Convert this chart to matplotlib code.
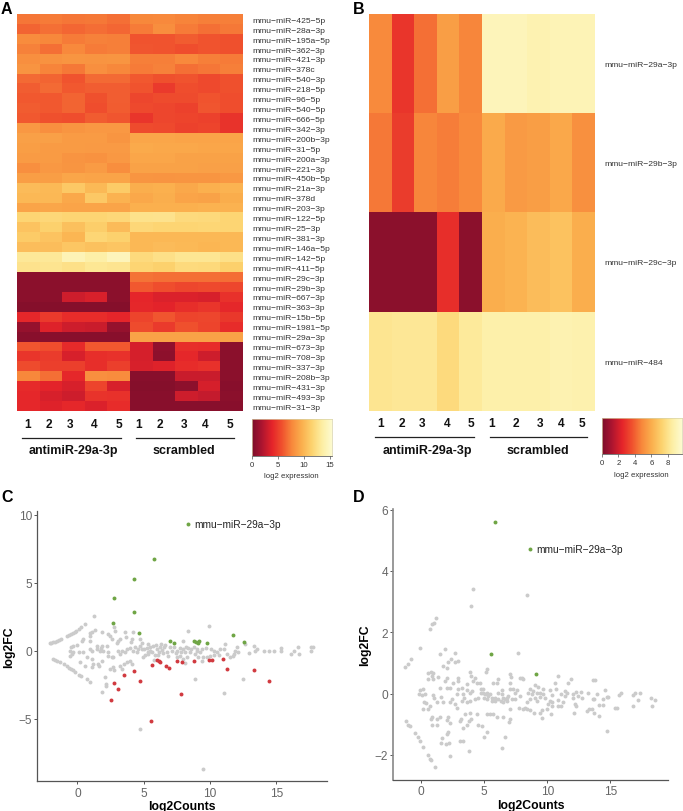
import numpy as np
import matplotlib
matplotlib.use("Agg")
import matplotlib.pyplot as plt
from matplotlib.lines import Line2D
from matplotlib.colors import LinearSegmentedColormap

plt.rcParams['font.family'] = ['Liberation Sans', 'DejaVu Sans']

W, H = 683, 812

# panel A
mirs_a = ["425-5p", "28a-3p", "195a-5p", "362-3p", "421-3p", "378c", "540-3p", "218-5p", "96-5p", "540-5p",
          "666-5p", "342-3p", "200b-3p", "31-5p", "200a-3p", "221-3p", "450b-5p", "21a-3p", "378d", "203-3p",
          "122-5p", "25-3p", "381-3p", "146a-5p", "142-5p", "411-5p", "29c-3p", "29b-3p", "667-3p", "363-3p",
          "15b-5p", "1981-5p", "29a-3p", "673-3p", "708-3p", "337-3p", "208b-3p", "431-3p", "493-3p", "31-3p"]
expr_a = [
    [7.0, 7.2, 7.0, 7.1, 6.8, 7.6, 7.7, 7.5, 7.3, 7.3],
    [6.4, 6.8, 6.5, 6.7, 6.5, 7.2, 7.9, 7.2, 6.8, 7.1],
    [7.8, 7.6, 7.2, 7.4, 7.3, 5.8, 5.8, 6.1, 5.8, 5.7],
    [7.4, 6.8, 7.7, 7.2, 7.3, 5.9, 5.8, 5.6, 5.8, 5.7],
    [8.0, 8.1, 8.3, 8.2, 8.3, 7.3, 7.3, 7.7, 7.3, 7.2],
    [8.2, 7.5, 7.1, 8.0, 7.6, 7.2, 7.4, 6.8, 7.0, 7.3],
    [6.6, 6.4, 5.8, 6.6, 6.6, 6.0, 5.7, 5.8, 5.4, 5.7],
    [6.2, 6.6, 6.0, 6.2, 6.2, 5.8, 4.8, 5.6, 5.4, 5.7],
    [6.0, 6.0, 6.4, 5.7, 6.2, 5.3, 5.5, 5.5, 5.8, 5.6],
    [6.1, 6.0, 6.4, 5.6, 6.1, 5.4, 5.3, 5.1, 5.9, 5.6],
    [6.0, 5.7, 5.6, 6.1, 5.9, 4.6, 5.3, 5.2, 5.1, 4.5],
    [8.4, 8.0, 8.3, 8.4, 8.4, 5.5, 5.4, 5.1, 5.2, 4.5],
    [8.8, 8.8, 8.6, 8.6, 8.3, 9.1, 9.1, 9.0, 9.0, 9.0],
    [8.7, 8.6, 8.6, 8.5, 8.5, 9.3, 9.2, 9.2, 9.1, 9.1],
    [8.6, 8.6, 8.2, 8.1, 8.4, 9.1, 9.1, 8.9, 8.9, 8.9],
    [8.0, 8.4, 8.3, 8.6, 7.9, 8.9, 8.9, 8.9, 8.8, 8.8],
    [8.7, 8.7, 9.1, 9.0, 9.0, 8.3, 8.2, 8.3, 8.3, 8.4],
    [10.2, 10.1, 10.9, 10.1, 11.0, 9.5, 9.6, 9.2, 9.6, 9.8],
    [10.0, 10.0, 9.2, 10.9, 9.7, 9.2, 9.5, 9.0, 8.9, 9.4],
    [9.0, 9.1, 9.0, 9.0, 9.0, 9.6, 9.6, 9.6, 9.7, 9.7],
    [11.6, 11.8, 11.6, 11.6, 11.8, 12.5, 12.6, 12.0, 11.9, 11.6],
    [10.6, 11.4, 10.4, 11.2, 10.2, 11.8, 11.6, 11.6, 11.7, 11.6],
    [11.0, 10.6, 9.9, 11.7, 11.4, 10.0, 10.0, 10.0, 10.0, 10.0],
    [10.3, 10.3, 10.8, 10.5, 10.7, 10.0, 10.2, 10.1, 9.9, 10.0],
    [13.0, 13.0, 14.2, 13.6, 14.4, 12.0, 12.4, 12.8, 12.8, 12.4],
    [12.6, 12.7, 12.4, 12.9, 12.7, 11.6, 11.4, 12.0, 11.9, 11.3],
    [0.6, 0.6, 0.6, 0.6, 0.6, 6.9, 6.8, 6.8, 6.8, 6.7],
    [0.6, 0.6, 0.6, 0.6, 0.6, 6.0, 5.6, 5.3, 5.4, 5.3],
    [0.6, 0.6, 3.0, 3.4, 0.6, 3.9, 3.5, 3.5, 3.4, 4.4],
    [0.4, 0.4, 0.4, 0.4, 0.4, 4.0, 3.8, 4.3, 4.6, 4.0],
    [4.0, 4.8, 4.2, 4.2, 3.9, 5.2, 5.9, 5.2, 5.3, 4.7],
    [1.0, 3.6, 3.0, 2.9, 1.0, 5.5, 4.8, 5.7, 5.2, 4.2],
    [0.5, 0.5, 0.5, 0.5, 0.5, 8.9, 8.9, 8.9, 8.9, 8.9],
    [5.9, 5.6, 4.1, 6.0, 6.0, 3.3, 0.8, 4.3, 4.2, 0.6],
    [4.6, 4.9, 3.4, 4.3, 4.4, 3.3, 0.7, 4.0, 3.0, 0.6],
    [5.5, 5.0, 5.0, 4.3, 5.0, 3.4, 3.6, 4.2, 4.4, 0.6],
    [7.6, 6.8, 4.0, 8.0, 7.8, 0.5, 0.5, 2.9, 2.9, 0.6],
    [4.1, 3.8, 3.4, 5.2, 3.4, 0.4, 0.4, 0.7, 3.3, 0.5],
    [4.0, 3.4, 3.0, 4.5, 4.4, 0.5, 0.5, 3.0, 2.7, 0.6],
    [4.0, 3.6, 4.0, 3.5, 4.2, 0.5, 0.5, 0.5, 0.5, 0.5],
]

# panel B
mirs_b = ["29a-3p", "29b-3p", "29c-3p", "484"]
expr_b = [
    [4.9, 2.9, 4.3, 5.5, 4.8, 9.1, 9.1, 8.9, 9.0, 9.0],
    [4.5, 3.1, 4.8, 4.6, 4.9, 5.9, 5.4, 5.5, 5.8, 5.1],
    [0.4, 0.4, 0.4, 2.7, 0.4, 6.0, 6.2, 6.5, 6.7, 6.0],
    [8.1, 8.2, 8.2, 7.6, 8.3, 8.7, 8.7, 8.7, 8.9, 8.8],
]
samples = ["1", "2", "3", "4", "5", "1", "2", "3", "4", "5"]
groups = ["antimiR-29a-3p", "scrambled"]

# panel C
c_grey_x = [-2.1, -2.0, -1.85, -1.7, -1.55, -1.4, -1.25, -0.8, -0.65, -0.5, -0.35, -0.2, -0.1, 0.1, 0.3, 0.6, 1.25,
            -1.85, -1.7, -1.5, -1.3, -1.0, -0.8, -0.6, -0.45, -0.3, -0.15, 0.15, 0.3, 0.7, 0.95,
            -0.5, -0.3, -0.55, -0.3, -0.42, -0.55, 0.0, 0.33, 0.4, 0.15, 0.4, 0.96, 0.96, 1.08, 0.96, 1.08, 1.3, 0.96,
            1.84, 1.5, 1.46, 1.76, 1.96, 1.7, 1.84, 2.34, 2.47, 2.6, 2.85, 3.22, 3.1, 3.02, 3.6, 3.7, 4.18, 4.1, 4.03,
            4.73, 4.86, 2.2, 2.34, 2.67, 2.34, 3.1, 3.35, 3.22, 3.6, 3.73, 3.98, 4.35, 4.6, 4.73, 4.23, 4.48, 4.86,
            4.98, 5.49, 5.3, 0.2, 0.58, 0.76, 1.08, 1.16, 1.08, 1.59, 1.84, 1.66, 2.47, 2.77, 2.72, 3.22, 3.52, 3.77,
            3.98, 4.1, 3.35, 2.09, 2.17, 2.17, 1.86, 2.6, 2.75,
            5.24, 5.49, 5.74, 5.99, 6.24, 5.61, 5.36, 5.86, 6.12, 6.37, 6.62, 6.49, 6.75, 6.87, 7.12, 7.25, 7.5, 7.75,
            8.0, 8.13, 8.38, 8.5, 8.76, 9.01, 8.88, 8.25, 8.0, 7.75, 7.5, 9.26, 9.51, 9.76, 10.0, 10.27, 10.5, 10.77,
            11.15, 11.02, 11.27, 11.52, 11.78, 11.9, 12.03, 12.1, 11.7, 12.66, 13.29, 12.91, 13.41, 13.54, 14.04, 14.47,
            14.8, 15.37, 15.37, 16.13, 16.3, 16.63, 16.73, 17.6, 17.8, 17.6, 8.88, 12.46, 8.13, 9.13, 9.39,
            5.5, 5.9, 6.1, 6.5, 7.0, 7.4, 7.8, 8.2, 8.6, 9.0, 9.4, 9.7, 10.1, 10.3, 10.7, 6.3, 5.3, 5.0, 5.1,
            11.05, 4.7, 9.45, 8.38, 9.89, 8.0, 5.8]
c_grey_y = [0.55, 0.58, 0.62, 0.68, 0.72, 0.78, 0.85, 1.1, 1.15, 1.22, 1.3, 1.4, 1.45, 1.6, 1.75, 2.0, 2.55,
            -0.62, -0.68, -0.75, -0.85, -1.0, -1.15, -1.25, -1.35, -1.45, -1.55, -1.75, -1.85, -2.1, -2.3,
            0.25, 0.37, 0.0, -0.07, -0.24, -0.35, 0.42, 0.74, 0.86, -0.07, -0.07, 0.74, 0.12, 0.0, 1.3, 1.4, 1.55, 1.1,
            1.4, 0.32, 0.12, 0.17, 0.0, 0.0, 0.32, 1.2, 1.06, 0.9, 1.47, 0.9, 0.74, 0.6, 1.35, 1.0, 1.35, 0.9, 0.66,
            0.86, 0.6, 0.32, -0.12, -0.49, -0.37, 0.0, 0.0, -0.24, -0.12, 0.12, 0.17, 0.25, 0.12, 0.37, 0.0, -0.07, 0.12,
            -0.49, 0.0, -0.12, -0.85, -1.1, -0.49, -0.6, -0.98, -1.2, -0.98, -0.73, -1.15, -1.35, -1.4, -1.2, -1.15, -0.98, -0.85,
            -0.73, -0.98, -1.35, -1.96, -2.45, -2.62, -3.06, -0.49, 1.75,
            0.2, 0.0, 0.37, 0.13, 0.25, -0.12, -0.24, -0.29, -0.12, 0.05, 0.44, -0.19, -0.12, -0.37, 0.0, 0.25, 0.0, 0.2,
            0.13, -0.12, 0.2, -0.12, 0.25, 0.13, -0.24, -0.49, -0.61, -0.37, -0.49, -0.12, -0.49, -0.49, -0.37, 0.0, -0.12, 0.13,
            0.49, 0.13, -0.24, -0.44, -0.24, 0.0, 0.25, -0.12, -0.37, 0.49, 0.37, -0.19, -0.05, 0.13, 0.0, -0.05,
            0.0, 0.2, -0.05, -0.24, -0.05, 0.25, -0.24, 0.25, 0.3, 0.0, -2.08, -2.08, -0.9, -0.49, -0.73,
            0.3, 0.45, -0.3, 0.25, 0.3, -0.2, -0.1, 0.3, 0.1, 0.0, 0.1, 0.2, 0.15, -0.3, -0.3, 0.5, 0.5, 0.1, -0.3,
            -3.1, -5.75, -8.7, 1.42, 1.84, 0.74, -0.7]
c_green_x = [8.35, 5.75, 4.25, 2.8, 4.3, 2.65, 4.65, 6.95, 7.32, 8.78, 8.93, 9.19, 9.13, 9.81, 11.7, 12.56]
c_green_y = [9.35, 6.75, 5.3, 3.9, 2.85, 2.05, 1.3, 0.69, 0.57, 0.74, 0.66, 0.69, 0.57, 0.59, 1.18, 0.66]
c_red_x = [2.55, 2.8, 3.1, 3.5, 4.25, 4.75, 7.8, 5.55, 5.66, 5.99, 6.12, 6.24, 6.67, 6.92, 7.5, 7.88, 8.81, 9.89,
           10.14, 10.95, 11.32, 13.31, 14.44]
c_red_y = [-3.65, -2.4, -2.8, -1.8, -1.5, -2.25, -3.2, -5.15, -1.05, -0.68, -0.78, -0.81, -1.15, -1.3, -0.78, -0.86,
           -0.73, -0.68, -0.66, -0.59, -1.32, -1.4, -2.23]

# panel D
d_grey_x = [-0.08, -0.79, -1.06, -1.27, 1.9, 1.5, 2.69, 2.37, 2.11, 1.77, 2.03, 2.95, 2.69, 7.65, 0.58, 0.79, 0.97, 0.53,
            0.84, 0.97, 1.37, 2.03, 1.9, 2.9, 2.95, 2.56, 3.88, 3.96, 4.27, 4.14, 4.4, 4.67, 5.2, 5.12, 6.12, 7.04, 7.12,
            5.72, 5.99, 7.04, 7.83, 8.1, -0.08, 0.18, -0.16, 0.1, 0.31, 0.26, 0.18, 0.58, 0.71, 0.37, 0.97, 1.05, 1.24,
            1.5, 2.03, 2.3, 1.58, 1.77, 2.3, 2.43, 2.82, 2.95, 3.22, 3.61, 3.35, 3.61, 3.88, 4.01, 2.69, 2.82, 3.22, 3.43,
            3.61, 3.88, 4.27, 4.54, 4.75, 4.93, 5.06, 5.33, 5.2, 5.59, 5.86, 6.12, 6.38, 6.5, 6.78, 6.91, 7.3, 7.57, 7.83,
            7.75, 8.1, 7.04, 6.5, 7.04, 6.99, 0.84, 0.79, 1.24, 1.5, 0.84, 1.24, 2.11, 2.03, 2.3, 3.09, 3.16, 3.35, 3.61,
            3.8, 3.96, 3.48, 3.88, 4.4, 4.48, 4.8, 5.2, 5.46, 5.72, 5.99, 5.2, 5.01, 6.65, 6.38, 2.03, 2.11, 1.69, 1.58,
            1.95, 2.21, 3.09, 3.35, 3.8, 2.3,
            -1.22, -1.0, -0.87, -0.48, -0.27, -0.08, 0.18, 0.58, 0.71, 0.79, 1.1, 0.71, 0.9, 1.0, 1.16, 4.09, 3.98, 8.42,
            4.75, 4.93, 5.01, 5.2, 5.46, 5.59, 5.86, 6.12, 6.33, 6.5, 6.65, 6.78, 7.04, 7.17, 7.44, 7.44, 6.38,
            7.97, 10.87, 11.88, 11.67, 10.61, 13.78, 13.64, 9.03, 9.29, 9.63, 8.63, 8.9, 8.5, 8.76, 9.16, 9.42, 9.69, 9.03,
            9.42, 9.82, 8.63, 9.16, 8.37, 8.24, 8.37, 8.63, 8.95, 9.42, 9.61, 9.58, 10.21, 10.69, 10.35, 10.21, 10.35, 10.08,
            10.0, 10.35, 10.27, 10.87, 10.87, 11.06, 11.27, 11.06, 11.4, 11.4, 11.59, 12.01, 12.27, 12.64, 12.06, 12.46,
            12.72, 12.2, 12.27, 12.14, 13.2, 13.59, 13.7, 13.96, 14.6, 14.44, 14.7, 14.83, 14.09, 14.44, 13.12, 13.33, 13.51,
            13.7, 14.09, 14.7, 15.36, 15.54, 15.68, 15.83, 16.81, 16.94, 17.3, 17.15, 16.81, 18.18, 18.53, 18.26]
d_grey_y = [1.49, 1.12, 0.98, 0.88, 1.46, 1.28, 1.31, 1.12, 1.03, 0.9, 0.84, 1.06, 1.03, 1.33, 0.68, 0.7, 0.68, 0.49,
            0.57, 0.49, 0.55, 0.52, 0.41, 0.52, 0.41, 0.36, 0.7, 0.57, 0.52, 0.41, 0.36, 0.33, 0.79, 0.7, 0.49, 0.63, 0.55,
            0.36, 0.36, 0.36, 0.52, 0.49, 0.1, 0.14, -0.02, -0.05, -0.02, -0.29, -0.49, -0.51, -0.4, -0.32, -0.05, -0.13, -0.29,
            0.19, 0.19, 0.19, -0.1, -0.27, -0.29, -0.19, -0.02, 0.14, 0.19, 0.3, -0.02, 0.1, 0.03, 0.09, -0.35, -0.46, -0.24, -0.16,
            -0.29, -0.24, -0.19, -0.13, 0.03, 0.14, -0.02, -0.08, -0.19, -0.13, -0.24, 0.03, 0.1, -0.13, -0.24, -0.08, 0.14, 0.1, -0.08,
            -0.46, -0.51, -0.51, -0.75, -0.84, -0.94, -0.75, -0.84, -0.84, -0.75, -1.03, -1.03, -0.75, -0.86, -0.97, -0.89, -0.84, -1.11, -1.03,
            -0.89, -0.84, -0.67, -0.62, -0.67, -1.03, -1.07, -0.67, -0.67, -0.67, -0.75, -1.25, -1.41, -1.43, -1.76, -1.32, -1.25, -1.46, -1.6,
            -1.65, -1.62, -1.54, -1.54, -1.87, -2.03,
            -0.91, -1.03, -1.07, -1.3, -1.43, -1.54, -1.73, -2.0, -2.12, -2.17, -2.41, 2.1, 2.26, 2.3, 2.46, 3.42, 2.86, 3.22,
            0.14, 0.03, -0.13, 0.03, -0.02, -0.24, -0.13, -0.19, -0.24, -0.29, -0.19, -0.13, 0.14, -0.19, 0.03, -0.19, -0.02,
            0.52, 0.57, 0.47, 0.34, 0.34, 0.44, 0.44, 0.27, 0.2, 0.16, 0.14, 0.09, 0.03, -0.02, 0.03, 0.03, -0.02, -0.13,
            -0.1, -0.16, -0.19, -0.24, -0.29, -0.46, -0.51, -0.53, -0.62, -0.62, -0.53, -0.81, 0.12, 0.16, -0.05, -0.24, -0.27, -0.35,
            -0.49, -0.4, -0.67, -0.21, -0.4, -0.4, -0.29, -0.02, 0.09, -0.08, 0.03, -0.02, 0.05, 0.05, -0.16, -0.08,
            -0.16, -0.35, -0.42, -0.62, 0.03, -0.18, -0.18, -0.02, 0.11, -0.18, -0.1, -0.1, -0.37, -0.37, -0.56, -0.51, -0.49,
            -0.64, -0.73, -1.21, -0.48, -0.48, -0.05, 0.03, -0.05, 0.01, 0.03, -0.2, -0.42, -0.13, -0.21, -0.4]
d_green_x = [5.85, 8.65, 5.55, 9.1]
d_green_y = [5.6, 4.7, 1.3, 0.65]

hm_ticks_a = [0, 5, 10, 15]
hm_ticks_b = [0, 2, 4, 6, 8]
c_xticks = [0, 5, 10, 15]
c_yticks = [-5, 0, 5, 10]
d_xticks = [0, 5, 10, 15]
d_yticks = [-2, 0, 2, 4, 6]

# softer than the stock YlOrRd, picked by eye from the reference colour bars
cmap = LinearSegmentedColormap.from_list('heat', ['#7c0e2b', '#ae1530', '#e5242a', '#f0512e', '#f8893c',
                                                  '#fbb04e', '#fdd36f', '#fdeea2', '#fdfbd0'])
grey = '#cbcbcb'
green = '#6fa545'
red = '#d13a40'
minus = '\u2212'


def mk_ax(fig, x0, y0, x1, y1):
    # pixel box, y counted from the top
    return fig.add_axes([x0 / W, 1 - y1 / H, (x1 - x0) / W, (y1 - y0) / H])


def txt(fig, x, y, s, **kw):
    kw.setdefault('ha', 'center')
    kw.setdefault('va', 'center')
    fig.text(x / W, 1 - y / H, s, **kw)


def hline(fig, x0, x1, y):
    fig.add_artist(Line2D([x0 / W, x1 / W], [1 - y / H, 1 - y / H], color='#222222', lw=0.9))


def heatmap(fig, box, vals, labels, vmax, lab_x):
    ax = mk_ax(fig, *box)
    ax.imshow(np.array(vals), cmap=cmap, vmin=0, vmax=vmax, aspect='auto', interpolation='nearest')
    ax.set_xticks([])
    ax.yaxis.tick_right()
    ax.set_yticks(range(len(labels)))
    ax.set_yticklabels(['mmu' + minus + 'miR' + minus + s.replace('-', minus) for s in labels],
                       fontsize=6.1, color='#333333')
    ax.tick_params(axis='y', length=0, pad=lab_x)
    for s in ax.spines.values():
        s.set_visible(False)
    return ax


def colorbar(fig, box, vmax, ticks):
    ax = mk_ax(fig, *box)
    grad = np.linspace(0, vmax, 256).reshape(1, -1)
    ax.imshow(grad, cmap=cmap, vmin=0, vmax=vmax, aspect='auto', extent=[0, vmax, 0, 1])
    ax.set_yticks([])
    ax.set_xticks(ticks)
    ax.tick_params(axis='x', length=2.2, width=0.5, color='#555555', labelsize=5.6, pad=1.5, labelcolor='#333333')
    for k in ['top', 'left', 'right']:
        ax.spines[k].set_linewidth(0.5)
        ax.spines[k].set_color('#d8d2a8')
    ax.spines['bottom'].set_linewidth(0.5)
    ax.spines['bottom'].set_color('#444444')
    return ax


def ma_plot(fig, box, xlim, ylim, xticks, yticks):
    ax = mk_ax(fig, *box)
    ax.set_xlim(xlim)
    ax.set_ylim(ylim)
    ax.set_xticks(xticks)
    ax.set_yticks(yticks)
    ax.set_xticklabels([str(t).replace('-', minus) for t in xticks])
    ax.set_yticklabels([str(t).replace('-', minus) for t in yticks])
    ax.tick_params(length=2.4, width=0.7, color='#555555', labelsize=8.6, labelcolor='#666666', pad=1.5)
    ax.spines['top'].set_visible(False)
    ax.spines['right'].set_visible(False)
    ax.spines['left'].set_color('#555555')
    ax.spines['bottom'].set_color('#555555')
    ax.spines['left'].set_linewidth(0.9)
    ax.spines['bottom'].set_linewidth(0.9)
    ax.set_xlabel('log2Counts', fontsize=8.8, fontweight='bold', labelpad=0.9)
    ax.set_ylabel('log2FC', fontsize=8.8, fontweight='bold', labelpad=2)
    return ax


fig = plt.figure(figsize=(W / 100, H / 100), dpi=100)

heatmap(fig, (17.3, 15.3, 242.7, 412), expr_a, mirs_a, 15.3, 7)
heatmap(fig, (369, 14.7, 595, 411.7), expr_b, mirs_b, 9.7, 7)
colorbar(fig, (252, 420, 331.5, 456.5), 15.3, hm_ticks_a)
colorbar(fig, (602, 419, 682, 455), 9.7, hm_ticks_b)
txt(fig, 291.5, 477, 'log2 expression', fontsize=5.6, color='#333333')
txt(fig, 641.7, 476, 'log2 expression', fontsize=5.6, color='#333333')

# sample numbers were placed by hand in the original, so the gaps are uneven
num_x_a = [28, 49, 70, 94, 119, 139, 160, 184, 205, 230]
num_x_b = [380.7, 401.7, 422, 446.7, 471, 491.7, 516, 540, 561, 582]
for x, s in zip(num_x_a, samples):
    txt(fig, x, 425, s, fontsize=8.6, fontweight='bold', color='#111111')
for x, s in zip(num_x_b, samples):
    txt(fig, x, 424, s, fontsize=8.6, fontweight='bold', color='#111111')

hline(fig, 22, 121, 438.7)
hline(fig, 136, 234, 438.7)
hline(fig, 375, 474, 438)
hline(fig, 490, 587, 438)
txt(fig, 73, 451.5, groups[0], fontsize=9, fontweight='bold', color='#111111')
txt(fig, 184, 451.5, groups[1], fontsize=9, fontweight='bold', color='#111111')
txt(fig, 427, 451.5, groups[0], fontsize=9, fontweight='bold', color='#111111')
txt(fig, 537.7, 451.5, groups[1], fontsize=9, fontweight='bold', color='#111111')

ax_c = ma_plot(fig, (37.3, 511.7, 326.7, 782.3), (-3.02, 18.8), (-9.6, 10.3), c_xticks, c_yticks)
ax_c.scatter(c_grey_x, c_grey_y, s=8, color=grey, lw=0, zorder=2)
ax_c.scatter(c_green_x, c_green_y, s=8, color=green, lw=0, zorder=3)
ax_c.scatter(c_red_x, c_red_y, s=8, color=red, lw=0, zorder=3)
ax_c.text(8.85, 9.35, 'mmu' + minus + 'miR' + minus + '29a' + minus + '3p', fontsize=7.3, va='center', color='#222222')

ax_d = ma_plot(fig, (393.3, 510, 667.7, 781), (-2.19, 19.53), (-2.82, 6.02), d_xticks, d_yticks)
ax_d.spines['left'].set_linewidth(1.2)
ax_d.spines['left'].set_color('#888888')
ax_d.scatter(d_grey_x, d_grey_y, s=8, color=grey, lw=0, zorder=2)
ax_d.scatter(d_green_x, d_green_y, s=8, color=green, lw=0, zorder=3)
ax_d.text(9.1, 4.7, 'mmu' + minus + 'miR' + minus + '29a' + minus + '3p', fontsize=7.3, va='center', color='#222222')

for s, x, y in [('A', 1, 9), ('B', 353, 9), ('C', 1, 498), ('D', 353, 498)]:
    txt(fig, x, y, s, ha='left', fontsize=11.5, fontweight='bold', color='black')

fig.savefig('out.png', dpi=100)
